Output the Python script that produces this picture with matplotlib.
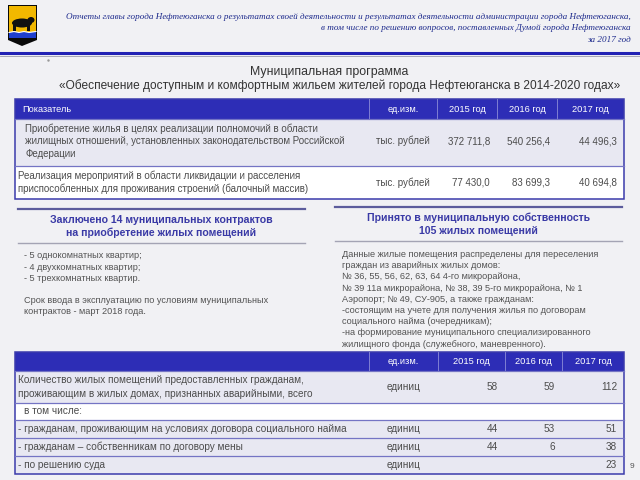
import matplotlib.pyplot as plt
from matplotlib.patches import Rectangle, Polygon, Ellipse

plt.rcParams['font.family'] = ['Liberation Sans', 'DejaVu Sans']

# --- texts ---
report_lines = [
    'Отчеты главы города Нефтеюганска о результатах своей деятельности и результатах деятельности администрации города Нефтеюганска,',
    'в том числе по решению вопросов, поставленных Думой города Нефтеюганска',
    'за 2017 год',
]
program_title = [
    'Муниципальная программа',
    '«Обеспечение доступным и комфортным жильем жителей города Нефтеюганска в 2014-2020 годах»',
]

years = ['2015 год', '2016 год', '2017 год']
unit_header = 'ед.изм.'

# --- table 1 ---
t1_names = [
    'Приобретение жилья в целях реализации полномочий в области\n'
    'жилищных отношений, установленных законодательством Российской\n'
    'Федерации',
    'Реализация мероприятий в области ликвидации и расселения\n'
    'приспособленных для проживания строений (балочный массив)',
]
t1_units = ['тыс. рублей', 'тыс. рублей']
t1_2015 = [372711.8, 77430.0]
t1_2016 = [540256.4, 83699.3]
t1_2017 = [44496.3, 40694.8]

# --- boxes ---
left_title = 'Заключено 14 муниципальных контрактов\nна приобретение жилых помещений'
left_lines = [
    '- 5 однокомнатных квартир;',
    '- 4 двухкомнатных квартир;',
    '- 5 трехкомнатных квартир.',
    '',
    'Срок ввода в эксплуатацию по условиям муниципальных',
    'контрактов - март 2018 года.',
]
right_title = 'Принято в муниципальную собственность\n105 жилых помещений'
right_lines = [
    'Данные жилые помещения распределены для переселения',
    'граждан из аварийных жилых домов:',
    '№ 36, 55, 56, 62, 63, 64 4-го микрорайона,',
    '№ 39 11а микрорайона, № 38, 39 5-го микрорайона, № 1',
    'Аэропорт; № 49, СУ-905, а также гражданам:',
    '-состоящим на учете для получения жилья по договорам',
    'социального найма (очередникам);',
    '-на формирование муниципального специализированного',
    'жилищного фонда (служебного, маневренного).',
]

# --- table 2 ---
t2_names = [
    'Количество жилых помещений предоставленных гражданам,\n'
    'проживающим в жилых домах, признанных аварийными, всего',
    'в том числе:',
    '- гражданам, проживающим на условиях договора социального найма',
    '- гражданам – собственникам по договору мены',
    '- по решению суда',
]
t2_units = ['единиц', '', 'единиц', 'единиц', 'единиц']
t2_2015 = [58, None, 44, 44, None]
t2_2016 = [59, None, 53, 6, None]
t2_2017 = [112, None, 51, 38, 23]

BG = '#f1f1f4'
HEAD_BLUE = '#2d2db6'
ROW_SHADE = '#e8e8f2'
TEXT = '#4c4c4c'


def fmt_money(v):
    return f'{v:,.1f}'.replace(',', ' ').replace('.', ',')


def fmt_count(v):
    return '' if v is None else str(v)


def draw_table(ax, ys, xs, first_header, names, units, values, fills,
               name_pad, text_dy, fs, ls):
    x0, x1 = xs[0], xs[-1]
    ax.add_patch(Rectangle((x0, ys[0]), x1 - x0, ys[1] - ys[0],
                           facecolor=HEAD_BLUE, edgecolor='none'))
    for x in xs[1:-1]:
        ax.plot([x, x], [ys[0], ys[1]], color='#8c8cd8', lw=0.6)
    hy = (ys[0] + ys[1]) / 2
    if first_header:
        ax.text(x0 + 7, hy, first_header, color='white', fontsize=6.6,
                ha='left', va='center')
    for i, lab in enumerate([unit_header] + years):
        ax.text((xs[i + 1] + xs[i + 2]) / 2, hy, lab, color='white',
                fontsize=6.7, ha='center', va='center')

    for r in range(len(names)):
        top, bot = ys[r + 1], ys[r + 2]
        cy = (top + bot) / 2 + text_dy[r]
        ax.add_patch(Rectangle((x0, top), x1 - x0, bot - top,
                               facecolor=fills[r], edgecolor='none'))
        ax.plot([x0, x1], [top, top], color='#7474c4', lw=0.9)
        ax.text(x0 + name_pad[r], cy, names[r], color=TEXT, fontsize=fs,
                ha='left', va='center', linespacing=ls)
        ax.text((xs[1] + xs[2]) / 2, cy, units[r], color=TEXT, fontsize=fs,
                ha='center', va='center')
        for c, col in enumerate(values):
            ax.text(xs[c + 3] - 7, cy, col[r], color=TEXT, fontsize=fs,
                    ha='right', va='center')
    ax.add_patch(Rectangle((x0, ys[0]), x1 - x0, ys[-1] - ys[0],
                           facecolor='none', edgecolor='#3b3bab', lw=1.1))


def draw_box_title(ax, x0, x1, y_top, y_bot, title):
    ax.plot([x0, x1], [y_top, y_top], color='#5c5c9c', lw=1.6)
    ax.plot([x0, x1], [y_bot, y_bot], color='#a4a4b4', lw=1.0)
    ax.text((x0 + x1) / 2, (y_top + y_bot) / 2 + 0.5, title, color='#3a3aa6',
            fontsize=7.6, fontweight='bold', ha='center', va='center',
            linespacing=1.35)


fig = plt.figure(figsize=(6.4, 4.8), dpi=100, facecolor=BG)
ax = fig.add_axes([0, 0, 1, 1])
ax.set_xlim(0, 640)
ax.set_ylim(480, 0)
ax.axis('off')

# coat of arms
ax.add_patch(Polygon([(8, 5), (37, 5), (37, 40), (22, 46), (8, 40)],
                     closed=True, facecolor='#0a0a0a', edgecolor='none'))
ax.add_patch(Rectangle((9, 6), 27, 26, facecolor='#f2b800', edgecolor='none'))
ax.add_patch(Ellipse((22, 23), 20, 9, facecolor='#111111'))
ax.add_patch(Ellipse((31, 20), 7, 6, facecolor='#111111'))
ax.add_patch(Rectangle((13, 25), 3, 6, facecolor='#111111'))
ax.add_patch(Rectangle((27, 25), 3, 6, facecolor='#111111'))
ax.add_patch(Rectangle((9, 32), 27, 6, facecolor='#1e3fd0', edgecolor='none'))
ax.plot([9, 14, 19, 24, 29, 36], [32.5, 31.5, 32.5, 31.5, 32.5, 31.5],
        color='white', lw=0.8)

# header
for i, line in enumerate(report_lines):
    ax.text(631, 17 + i * 11.5, line, family='Liberation Serif', style='italic',
            fontsize=6.6, color='#1d2a8c', ha='right', va='center')
ax.plot([0, 640], [53, 53], color='#2222b4', lw=2.2)
ax.plot([0, 640], [55.8, 55.8], color='#9a9aaa', lw=0.6)
ax.plot(48, 60, marker='.', color='#999999', markersize=1.5)

ax.text(329, 72, program_title[0], fontsize=8.9, color='#333333',
        ha='center', va='center')
ax.text(340, 86, program_title[1], fontsize=8.55, color='#333333',
        ha='center', va='center')

# table 1
draw_table(ax, [99, 119, 166, 199], [15, 369, 437, 497, 557, 624],
           'Показатель', t1_names, t1_units,
           [[fmt_money(v) for v in t1_2015],
            [fmt_money(v) for v in t1_2016],
            [fmt_money(v) for v in t1_2017]],
           [ROW_SHADE, 'white'], [10, 3], [-1.5, 0], 7.05, 1.3)

# boxes
draw_box_title(ax, 18, 305, 209, 243, left_title)
for i, line in enumerate(left_lines):
    ax.text(24, 256 + i * 11.2, line, fontsize=6.6, color='#535353',
            ha='left', va='center')
draw_box_title(ax, 335, 622, 207, 241, right_title)
for i, line in enumerate(right_lines):
    ax.text(342, 254.5 + i * 11.2, line, fontsize=6.6, color='#535353',
            ha='left', va='center')

# table 2
draw_table(ax, [352, 371, 403, 420, 438, 456, 474], [15, 369, 438, 505, 562, 624],
           '', t2_names, t2_units,
           [[fmt_count(v) for v in t2_2015],
            [fmt_count(v) for v in t2_2016],
            [fmt_count(v) for v in t2_2017]],
           [ROW_SHADE, 'white', ROW_SHADE, ROW_SHADE, ROW_SHADE],
           [3, 9, 3, 3, 3], [0, 0, 0, 0, 0], 7.2, 1.4)

ax.text(632, 466, '9', fontsize=6, color='#555555', ha='center', va='center')

fig.savefig('out.png', dpi=100, facecolor=BG)
